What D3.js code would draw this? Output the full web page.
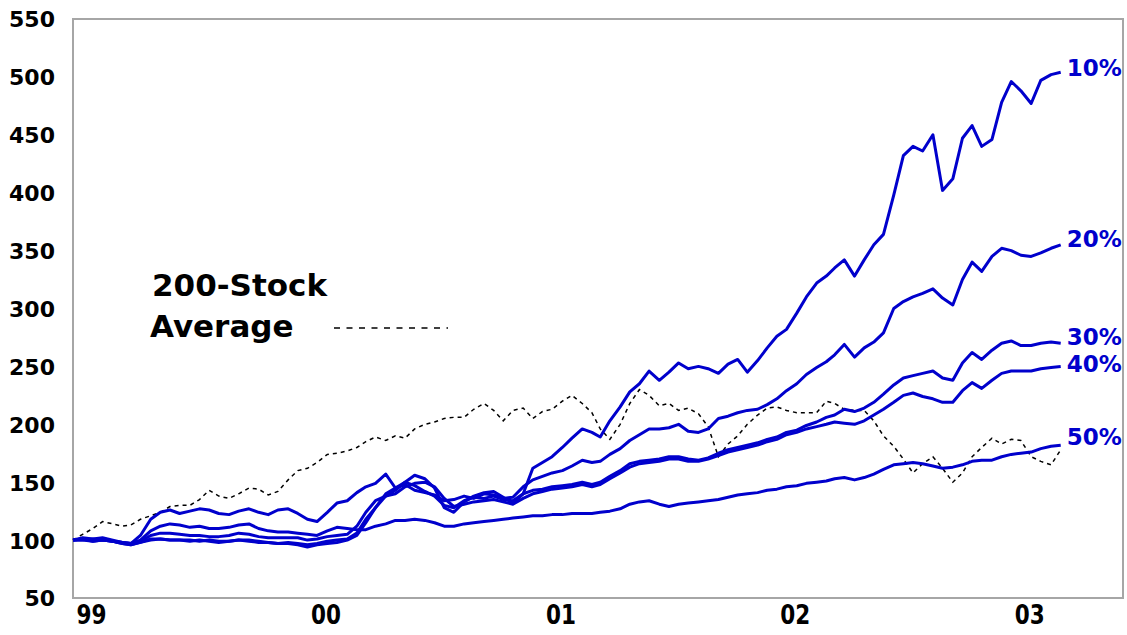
<!DOCTYPE html>
<html>
<head>
<meta charset="utf-8">
<script src="https://cdn.jsdelivr.net/npm/d3@7"></script>
<style>
  body { margin: 0; background: #fff; }
  text { font-family: "DejaVu Sans", Verdana, sans-serif; font-weight: bold; }
</style>
</head>
<body>
<div id="chart-holder"></div>
<script>
// half-monthly observations, Dec 1998 - Feb 2003 (4th and 19th of each month)
var dates = d3.timeMonth.range(new Date(1998, 11, 1), new Date(2003, 2, 1))
  .flatMap(function (m) { return [d3.timeDay.offset(m, 3), d3.timeDay.offset(m, 18)]; });

var seriesNames = ["10%", "20%", "30%", "40%", "50%"];

var tenPct = [100, 101, 99, 100, 99, 97, 96, 98, 100, 101, 100, 100, 99, 100, 99, 98, 99, 100, 99, 98,
  98, 97, 97, 96, 94, 96, 97, 98, 100, 104, 115, 128, 140, 145, 150, 156, 153, 145, 128, 124,
  133, 138, 141, 142, 137, 132, 140, 162, 167, 172, 180, 188, 196, 193, 189, 203, 215, 228, 235, 246,
  238, 245, 253, 248, 250, 248, 244, 252, 256, 245, 255, 266, 276, 282, 296, 310, 322, 328, 335, 342,
  328, 342, 355, 364, 398, 432, 440, 436, 450, 402, 412, 447, 458, 440, 446, 478, 496, 488, 477, 497,
  502, 504];

var twentyPct = [100, 102, 101, 102, 100, 98, 97, 104, 118, 124, 126, 123, 125, 127, 126, 123, 122, 125, 127, 124,
  122, 126, 127, 123, 118, 116, 124, 132, 134, 141, 146, 149, 157, 145, 148, 143, 141, 139, 134, 135,
  138, 136, 140, 139, 136, 137, 146, 152, 155, 158, 160, 164, 169, 167, 168, 174, 179, 186, 191, 196,
  196, 197, 200, 194, 193, 196, 205, 207, 210, 212, 213, 217, 222, 229, 235, 243, 249, 254, 260, 269,
  258, 266, 271, 279, 300, 306, 310, 313, 317, 309, 303, 325, 340, 332, 345, 352, 350, 346, 345, 348,
  352, 355];

var thirtyPct = [100, 100, 101, 100, 99, 98, 97, 99, 104, 106, 106, 105, 104, 104, 103, 103, 104, 106, 105, 103,
  102, 102, 102, 102, 100, 101, 103, 104, 105, 112, 124, 134, 138, 143, 150, 147, 142, 138, 130, 128,
  134, 137, 136, 138, 135, 134, 140, 143, 144, 146, 147, 148, 150, 148, 150, 155, 160, 166, 168, 169,
  170, 172, 172, 170, 169, 171, 175, 178, 180, 182, 184, 187, 189, 193, 195, 199, 202, 206, 208, 213,
  211, 214, 219, 226, 234, 240, 242, 244, 246, 240, 238, 253, 262, 256, 264, 270, 272, 268, 268, 270,
  271, 270];

var fortyPct = [100, 100, 99, 100, 99, 97, 96, 98, 101, 101, 100, 100, 100, 99, 100, 99, 99, 100, 100, 99,
  98, 97, 98, 97, 96, 97, 99, 100, 101, 106, 118, 128, 138, 140, 146, 149, 150, 146, 136, 129,
  131, 133, 134, 135, 133, 131, 136, 140, 142, 144, 145, 146, 148, 146, 148, 153, 158, 163, 166, 167,
  168, 170, 170, 168, 168, 170, 173, 176, 178, 180, 182, 185, 187, 191, 193, 196, 198, 200, 202, 201,
  200, 203, 208, 213, 219, 225, 227, 224, 222, 219, 219, 229, 236, 231, 238, 244, 246, 246, 246, 248,
  249, 250];

var fiftyPct = [100, 101, 100, 101, 99, 98, 97, 100, 108, 112, 114, 113, 111, 112, 110, 110, 111, 113, 114, 110,
  108, 107, 107, 106, 105, 104, 108, 111, 110, 109, 109, 112, 114, 117, 117, 118, 117, 115, 112, 112,
  114, 115, 116, 117, 118, 119, 120, 121, 121, 122, 122, 123, 123, 123, 124, 125, 127, 131, 133, 134,
  131, 129, 131, 132, 133, 134, 135, 137, 139, 140, 141, 143, 144, 146, 147, 149, 150, 151, 153, 154,
  152, 154, 157, 161, 165, 166, 167, 166, 164, 162, 163, 165, 168, 169, 169, 172, 174, 175, 176, 179,
  181, 182];

var average = [100, 105, 110, 116, 114, 112, 113, 118, 121, 124, 129, 130, 130, 135, 143, 138, 136, 140, 145, 144,
  139, 142, 152, 160, 162, 167, 174, 175, 177, 180, 185, 189, 186, 190, 188, 196, 200, 202, 205, 206,
  206, 213, 218, 212, 203, 212, 214, 205, 211, 213, 220, 225, 218, 210, 196, 187, 200, 218, 230, 225,
  216, 218, 212, 214, 209, 198, 172, 183, 190, 200, 208, 214, 215, 212, 210, 210, 210, 220, 218, 213,
  212, 212, 203, 190, 181, 170, 158, 166, 172, 162, 150, 158, 172, 180, 188, 183, 187, 186, 172, 168,
  165, 178];

var yTicks = [50, 100, 150, 200, 250, 300, 350, 400, 450, 500, 550];
var yearTicks = [new Date(1999, 0, 1), new Date(2000, 0, 1), new Date(2001, 0, 1), new Date(2002, 0, 1), new Date(2003, 0, 1)];

var seriesValues = [tenPct, twentyPct, thirtyPct, fortyPct, fiftyPct];

// set the dimensions and margins of the graph
var margin = { top: 19, right: 4, bottom: 37, left: 73 },
  width = 1127 - margin.left - margin.right,
  height = 635 - margin.top - margin.bottom;

var svg = d3.select("#chart-holder")
  .append("svg")
  .attr("width", 1127)
  .attr("height", 635)
  .append("g")
  .attr("transform", "translate(" + margin.left + "," + margin.top + ")");

var blue = "#0000cc";

// scales
var x = d3.scaleTime()
  .domain([new Date(1998, 11, 4), new Date(2003, 4, 27)])
  .range([0, width]);

var y = d3.scaleLinear()
  .domain([50, 550])
  .range([height, 0]);

// frame
svg.append("rect")
  .attr("x", 0)
  .attr("y", 0)
  .attr("width", width)
  .attr("height", height)
  .style("fill", "none")
  .style("stroke", "#a6a6a6")
  .style("stroke-width", 2);

// y axis labels
var yAxis = svg.append("g")
  .call(d3.axisLeft(y).tickValues(yTicks).tickSize(0).tickPadding(18));
yAxis.select(".domain").remove();
yAxis.selectAll("text")
  .style("font-size", "22px")
  .style("fill", "#000")
  .attr("dy", "0.36em");

// x axis labels
var xAxis = svg.append("g")
  .attr("transform", "translate(0," + height + ")")
  .call(d3.axisBottom(x).tickValues(yearTicks).tickSize(0).tickPadding(5)
    .tickFormat(d3.timeFormat("%y")));
xAxis.select(".domain").remove();
xAxis.selectAll("text")
  .style("font-size", "27px")
  .style("fill", "#000")
  .attr("textLength", 30)
  .attr("lengthAdjust", "spacingAndGlyphs")
  .attr("dy", "0.76em");

var line = d3.line()
  .x(function (d, i) { return x(dates[i]); })
  .y(function (d) { return y(d); });

// 200-stock average, dashed
svg.append("path")
  .datum(average)
  .attr("d", line)
  .style("fill", "none")
  .style("stroke", "#000")
  .style("stroke-width", 1.5)
  .style("stroke-dasharray", "4,4");

// concentration portfolios
svg.selectAll(".series")
  .data(seriesValues)
  .enter()
  .append("path")
  .attr("class", "series")
  .attr("d", line)
  .style("fill", "none")
  .style("stroke", blue)
  .style("stroke-width", 3)
  .style("stroke-linejoin", "round");

// end labels
var labelShift = [-5, -6, -7, -3, -8];
svg.selectAll(".end-label")
  .data(seriesNames)
  .enter()
  .append("text")
  .attr("class", "end-label")
  .attr("x", x(dates[dates.length - 1]) + 6)
  .attr("y", function (d, i) { return y(seriesValues[i][seriesValues[i].length - 1]) + labelShift[i]; })
  .attr("dy", "0.36em")
  .style("font-size", "23px")
  .style("fill", blue)
  .text(function (d) { return d; });

// legend
svg.append("text")
  .attr("x", 152 - margin.left)
  .attr("y", 296 - margin.top)
  .style("font-size", "31px")
  .style("fill", "#000")
  .text("200-Stock");
svg.append("text")
  .attr("x", 150 - margin.left)
  .attr("y", 337 - margin.top)
  .style("font-size", "31px")
  .style("fill", "#000")
  .text("Average");
svg.append("line")
  .attr("x1", 334 - margin.left)
  .attr("x2", 448 - margin.left)
  .attr("y1", 328 - margin.top)
  .attr("y2", 328 - margin.top)
  .style("stroke", "#000")
  .style("stroke-width", 1.5)
  .style("stroke-dasharray", "6,6.5");
</script>
</body>
</html>
